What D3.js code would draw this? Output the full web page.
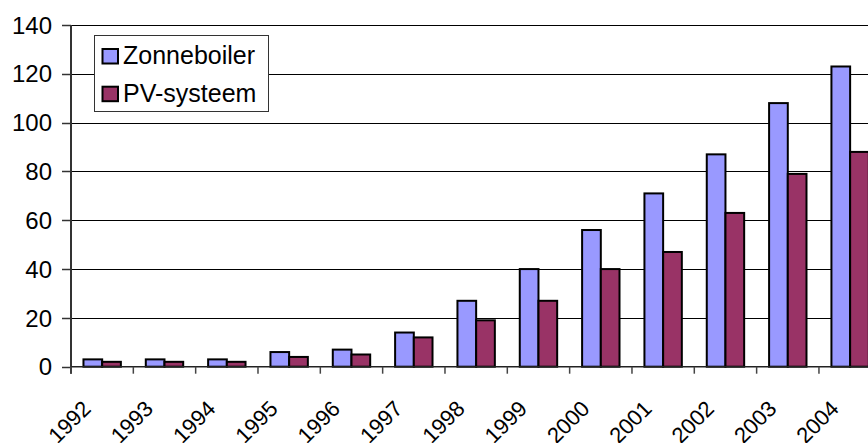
<!DOCTYPE html>
<html><head><meta charset="utf-8">
<script src="https://cdn.jsdelivr.net/npm/d3@7"></script>
<style>
html,body{margin:0;padding:0;background:#fff;overflow:hidden}
text{font-family:"Liberation Sans",Arial,sans-serif;fill:#000}
</style></head>
<body>
<script>
const years = ["1992","1993","1994","1995","1996","1997","1998","1999","2000","2001","2002","2003","2004"];
const zonneboiler = [3,3,3,6,7,14,27,40,56,71,87,108,123];
const pvSysteem = [2,2,2,4,5,12,19,27,40,47,63,79,88];
const seriesNames = ["Zonneboiler","PV-systeem"];
const seriesColors = ["#9999FF","#993366"];
const yTicks = [0,20,40,60,80,100,120,140];

(function(){
const W = 868, H = 443;
const mLeft = 71, mTop = 25, mBottom = 366.7;
const bandW = 62.33;
const svg = d3.select("body").append("svg").attr("width", W).attr("height", H);

const x = d3.scaleBand().domain(years).range([mLeft, mLeft + bandW * years.length]).padding(0);
const y = d3.scaleLinear().domain([0,140]).range([mBottom, mTop]);
const bw = x.bandwidth();

// gridlines
svg.append("g").selectAll("line").data(yTicks.filter(d=>d>0)).join("line")
  .attr("x1", mLeft).attr("x2", W + 20)
  .attr("y1", d=>Math.round(y(d))+0.5).attr("y2", d=>Math.round(y(d))+0.5)
  .attr("stroke", "#000").attr("stroke-width", 1);

// bars
const series = [zonneboiler, pvSysteem];
series.forEach((vals, si) => {
  svg.append("g").selectAll("rect").data(years).join("rect")
    .attr("x", (d) => x(d) + bw*0.2 + si*bw*0.3)
    .attr("width", bw*0.3)
    .attr("y", (d,i) => y(vals[i]))
    .attr("height", (d,i) => y(0) - y(vals[i]))
    .attr("fill", seriesColors[si])
    .attr("stroke", "#000").attr("stroke-width", 2);
});

// y axis
const yAxis = svg.append("g");
yAxis.append("line").attr("x1", mLeft).attr("x2", mLeft).attr("y1", mTop).attr("y2", mBottom+7)
  .attr("stroke", "#333").attr("stroke-width", 2);
yAxis.selectAll("line.tk").data(yTicks).join("line").attr("class","tk")
  .attr("x1", mLeft-9).attr("x2", mLeft)
  .attr("y1", d=>Math.round(y(d))+0.5).attr("y2", d=>Math.round(y(d))+0.5)
  .attr("stroke", "#333").attr("stroke-width", 1.5);
yAxis.selectAll("text").data(yTicks).join("text")
  .attr("x", 52).attr("y", d=>y(d)).attr("dy","0.36em")
  .attr("text-anchor","end").style("font-size","24px").text(d=>d);

// x axis
const xAxis = svg.append("g");
xAxis.append("line").attr("x1", mLeft).attr("x2", W + 20).attr("y1", mBottom).attr("y2", mBottom)
  .attr("stroke", "#222").attr("stroke-width", 1.5);
xAxis.selectAll("line.tk").data(years).join("line").attr("class","tk")
  .attr("x1", d=>x(d)).attr("x2", d=>x(d)).attr("y1", mBottom).attr("y2", mBottom+7)
  .attr("stroke", "#444").attr("stroke-width", 1.5);
xAxis.selectAll("text").data(years).join("text")
  .attr("text-anchor","end").style("font-size","22px")
  .attr("transform", d=>`translate(${x(d)+bw/2-10},${410}) rotate(-45)`)
  .text(d=>d);

// legend
const lg = svg.append("g");
lg.append("rect").attr("x", 94.5).attr("y", 35.5).attr("width", 174).attr("height", 76)
  .attr("fill","#fff").attr("stroke","#333").attr("stroke-width",1);
seriesNames.forEach((n, i) => {
  const yy = 49 + i*37.7;
  lg.append("rect").attr("x", 102.5).attr("y", yy).attr("width", 15.5).attr("height", 14.5)
    .attr("fill", seriesColors[i]).attr("stroke","#000").attr("stroke-width",2);
  lg.append("text").attr("x", 123).attr("y", yy + 15).style("font-size","25px").text(n);
});
})();
</script>
</body></html>
